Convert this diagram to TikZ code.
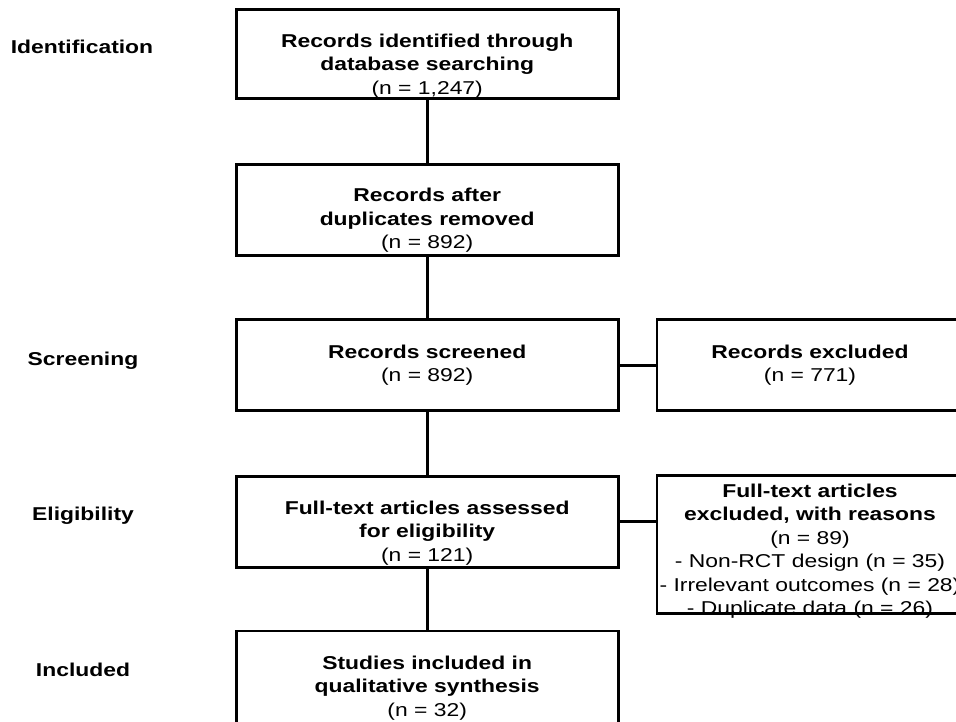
\documentclass[tikz,border=0pt]{standalone}
\usepackage{fontspec}
\setmainfont{Liberation Sans}[FakeStretch=1.23]
\usepackage{tikz}

\begin{document}
\begin{tikzpicture}[x=1pt, y=1pt,
		box_style/.style={rectangle,draw=black,line width=2.8pt,minimum width=382pt,minimum height=91pt,inner sep=0pt},
		side_style/.style={rectangle,draw=black,line width=2.8pt,minimum width=306pt,inner sep=0pt},
		text_style/.style={align=center,inner sep=0pt,font=\fontsize{18.6}{23.5}\selectfont},
		stage_style/.style={inner sep=0pt,font=\fontsize{18.6}{23.5}\selectfont\bfseries},
		edge_style/.style={draw=black,line width=2.8pt}]

		\useasboundingbox (0,0) rectangle (956,-722);

		\node[stage_style] (st1) at (82,-47)  {Identification};
		\node[stage_style] (st2) at (83,-361)  {Screening};
		\node[stage_style] (st3) at (83,-516)  {Eligibility};
		\node[stage_style] (st4) at (83,-670)  {Included};

		\node[box_style, minimum height=89pt] (ident) at (427.2,-54)  {};
		\node[box_style] (dupl) at (427.2,-210.3)  {};
		\node[box_style] (screen) at (427.2,-365.1)  {};
		\node[side_style, minimum height=91pt] (excl) at (810,-365.1)  {};
		\node[box_style] (elig) at (427.2,-521.6)  {};
		\node[side_style, minimum height=138pt] (exclft) at (810,-544.3)  {};
		\node[box_style, minimum height=97pt] (incl) at (427.2,-679.5)  {};

		\node[text_style] (ident_txt) at (427.2,-66)  {\textbf{Records identified through}\\\textbf{database searching}\\(n = 1,247)};
		\node[text_style] (dupl_txt) at (427.2,-220.5)  {\textbf{Records after}\\\textbf{duplicates removed}\\(n = 892)};
		\node[text_style] (screen_txt) at (427.2,-365)  {\textbf{Records screened}\\(n = 892)};
		\node[text_style] (excl_txt) at (810,-365)  {\textbf{Records excluded}\\(n = 771)};
		\node[text_style] (elig_txt) at (427.2,-533)  {\textbf{Full-text articles assessed}\\\textbf{for eligibility}\\(n = 121)};
		\node[text_style] (exclft_txt) at (810,-551)  {\textbf{Full-text articles}\\\textbf{excluded, with reasons}\\(n = 89)\\- Non-RCT design (n = 35)\\- Irrelevant outcomes (n = 28)\\- Duplicate data (n = 26)};
		\node[text_style] (incl_txt) at (427.2,-688)  {\textbf{Studies included in}\\\textbf{qualitative synthesis}\\(n = 32)};

		\draw[edge_style]  (ident) edge (dupl);
		\draw[edge_style]  (dupl) edge (screen);
		\draw[edge_style]  (screen) edge (excl);
		\draw[edge_style]  (screen) edge (elig);
		\draw[edge_style]  (elig) edge (incl);
		\draw[edge_style]  (elig) -- (elig -| exclft.west);

\end{tikzpicture}
\end{document}
